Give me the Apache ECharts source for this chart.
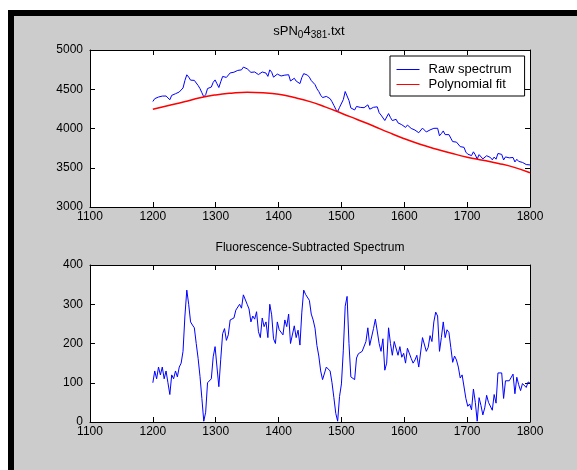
<!DOCTYPE html>
<html>
<head>
<meta charset="utf-8">
<script src="https://cdn.jsdelivr.net/npm/echarts/dist/echarts.min.js"></script>
<style>
  html, body { margin: 0; padding: 0; background: #fff; }
  #frame {
    position: absolute; left: 8px; top: 10px; width: 569px; height: 460px;
    box-sizing: border-box; border-top: 6px solid #000; border-left: 6px solid #000;
    background: #cccccc;
  }
  #chart { position: absolute; left: 0; top: 0; width: 577px; height: 470px; }
</style>
</head>
<body>
<div id="frame"></div>
<div id="chart"></div>
<script>
// Wavenumber grid (cm^-1)
const wavenumber = [
  1200,1203,1206,1209,1212,1215,1218,1221,1224,1227,
  1230,1233,1236,1239,1242,1245,1248,1251,1254,1257,
  1260,1263,1266,1269,1272,1275,1278,1281,1284,1287,
  1290,1293,1296,1299,1302,1305,1308,1311,1314,1317,
  1320,1323,1326,1329,1332,1335,1338,1341,1344,1347,
  1350,1353,1356,1359,1362,1365,1368,1371,1374,1377,
  1380,1383,1386,1389,1392,1395,1398,1401,1404,1407,
  1410,1413,1416,1419,1422,1425,1428,1431,1434,1437,
  1440,1443,1446,1449,1452,1455,1458,1461,1464,1467,
  1470,1473,1476,1479,1482,1485,1488,1491,1494,1497,
  1500,1503,1506,1509,1512,1515,1518,1521,1524,1527,
  1530,1533,1536,1539,1542,1545,1548,1551,1554,1557,
  1560,1563,1566,1569,1572,1575,1578,1581,1584,1587,
  1590,1593,1596,1599,1602,1605,1608,1611,1614,1617,
  1620,1623,1626,1629,1632,1635,1638,1641,1644,1647,
  1650,1653,1656,1659,1662,1665,1668,1671,1674,1677,
  1680,1683,1686,1689,1692,1695,1698,1701,1704,1707,
  1710,1713,1716,1719,1722,1725,1728,1731,1734,1737,
  1740,1743,1746,1749,1752,1755,1758,1761,1764,1767,
  1770,1773,1776,1779,1782,1785,1788,1791,1794,1797,
  1800
];

// Raw Raman spectrum (counts)
const rawSpectrum = [
  4344,4380,4366,4401,4387,4413,4389,4414,4390,4366,
  4422,4417,4443,4434,4465,4480,4516,4612,4684,4655,
  4616,4614,4613,4580,4548,4508,4456,4403,4430,4509,
  4518,4528,4588,4619,4570,4522,4595,4663,4678,4651,
  4668,4708,4708,4717,4738,4740,4756,4747,4782,4785,
  4761,4748,4715,4729,4720,4738,4687,4671,4720,4696,
  4706,4664,4747,4717,4654,4640,4693,4669,4669,4647,
  4680,4658,4685,4605,4595,4640,4604,4616,4572,4649,
  4699,4682,4680,4654,4611,4588,4559,4506,4471,4424,
  4394,4390,4409,4405,4380,4341,4294,4245,4215,4269,
  4292,4368,4471,4486,4357,4262,4253,4236,4281,4283,
  4269,4270,4265,4275,4301,4246,4242,4270,4283,4276,
  4201,4171,4192,4102,4110,4190,4140,4101,4126,4117,
  4072,4084,4048,4048,4014,4044,4036,4001,3981,3980,
  3984,3946,3938,4005,3998,3956,3959,3982,3959,4002,
  4020,4003,3907,3935,3969,3922,3935,3922,3877,3833,
  3843,3827,3803,3769,3771,3760,3699,3673,3675,3655,
  3703,3664,3611,3667,3642,3613,3626,3653,3631,3631,
  3601,3636,3609,3682,3679,3670,3599,3638,3627,3626,
  3625,3631,3574,3608,3581,3558,3568,3557,3541,3547,
  3536
];

// Fluorescence-subtracted spectrum (counts)
const subtracted = [
  100,130,110,140,120,140,110,130,100,70,
  120,110,130,115,140,150,180,270,336,300,
  255,247,240,200,162,116,60,2,25,100,
  104,110,166,192,140,90,160,225,238,208,
  222,260,258,265,285,286,300,290,324,325,
  300,288,255,270,262,281,230,215,265,243,
  255,215,300,273,212,200,255,235,240,222,
  260,243,275,200,195,245,215,234,196,280,
  336,325,330,310,275,260,239,195,168,130,
  108,112,140,145,130,100,62,22,2,65,
  97,183,295,320,200,115,115,108,163,174,
  170,180,185,205,240,195,200,238,262,265,
  200,180,212,132,150,240,200,170,205,205,
  170,192,165,175,150,188,188,162,150,158,
  170,140,140,215,215,180,190,220,205,255,
  280,270,180,215,255,215,235,228,190,152,
  168,158,140,112,120,115,60,40,46,31,
  84,50,2,62,42,18,36,68,50,55,
  30,70,48,125,128,125,60,105,100,105,
  110,122,72,114,95,80,98,96,88,102,
  99
];

// Polynomial baseline, sampled every 25 cm^-1
const fitWavenumber = [1200,1225,1250,1275,1300,1325,1350,1375,1400,1425,1450,1475,1500,
                       1525,1550,1575,1600,1625,1650,1675,1700,1725,1750,1775,1800];
const polyFit = [4244,4292,4340,4392,4428,4450,4461,4455,4436,4395,4342,4272,4195,
                 4115,4035,3950,3870,3800,3740,3685,3635,3595,3555,3505,3437];

const xTicks = { min: 1100, max: 1800, step: 100 };
const rawTicks = { min: 3000, max: 5000, step: 500 };
const subTicks = { min: 0, max: 400, step: 100 };

const FONT = "'Liberation Sans', Arial, Helvetica, sans-serif";

function pairs(xs, ys) { return xs.map((x, i) => [x, ys[i]]); }
const plain = v => String(v);

function xAxisCfg(gridIndex, position, showLabels) {
  return {
    type: 'value', gridIndex, position,
    min: xTicks.min, max: xTicks.max, interval: xTicks.step,
    axisLine: { show: true, onZero: false, lineStyle: { color: '#000', width: 1 } },
    axisTick: { show: true, inside: true, length: 5, lineStyle: { color: '#000', width: 1 } },
    axisLabel: { show: showLabels, color: '#000', fontSize: 12, fontFamily: FONT, margin: 4,
                 showMinLabel: true, showMaxLabel: true, formatter: plain },
    splitLine: { show: false }
  };
}
function yAxisCfg(gridIndex, position, ticks, showLabels) {
  return {
    type: 'value', gridIndex, position,
    min: ticks.min, max: ticks.max, interval: ticks.step,
    axisLine: { show: true, onZero: false, lineStyle: { color: '#000', width: 1 } },
    axisTick: { show: true, inside: true, length: 5, lineStyle: { color: '#000', width: 1 } },
    axisLabel: { show: showLabels, color: '#000', fontSize: 12, fontFamily: FONT, margin: 7,
                 showMinLabel: true, showMaxLabel: true, formatter: plain },
    splitLine: { show: false }
  };
}

const chart = echarts.init(document.getElementById('chart'), null, { renderer: 'canvas' });

chart.setOption({
  animation: false,
  backgroundColor: 'transparent',
  grid: [
    { left: 90, top: 50, width: 440, height: 157, show: true, backgroundColor: '#fff', borderWidth: 0 },
    { left: 90, top: 265, width: 440, height: 157, show: true, backgroundColor: '#fff', borderWidth: 0 }
  ],
  xAxis: [
    xAxisCfg(0, 'bottom', true),
    xAxisCfg(0, 'top', false),
    xAxisCfg(1, 'bottom', true),
    xAxisCfg(1, 'top', false)
  ],
  yAxis: [
    yAxisCfg(0, 'left', rawTicks, true),
    yAxisCfg(0, 'right', rawTicks, false),
    yAxisCfg(1, 'left', subTicks, true),
    yAxisCfg(1, 'right', subTicks, false)
  ],
  legend: {
    data: ['Raw spectrum', 'Polynomial fit'],
    orient: 'vertical',
    left: 390, top: 56,
    backgroundColor: '#fff',
    borderColor: '#000', borderWidth: 1, borderRadius: 0,
    padding: [7, 13, 5, 6],
    itemWidth: 23, itemHeight: 14, itemGap: 2,
    selectedMode: false,
    itemStyle: { opacity: 0 },
    lineStyle: { width: 1 },
    textStyle: { color: '#000', fontSize: 13, fontFamily: FONT, padding: [0, 0, 0, 4] }
  },
  graphic: [
    {
      type: 'text', x: 309, y: 25, silent: true,
      style: {
        text: '{a|sPN}{s|0}{a|4}{s|381}{a|.txt}',
        align: 'center', verticalAlign: 'top',
        rich: {
          a: { fontSize: 13, fontFamily: FONT, fill: '#000', lineHeight: 15, verticalAlign: 'top', padding: [0, 0, 3, 0] },
          s: { fontSize: 10, fontFamily: FONT, fill: '#000', lineHeight: 11, verticalAlign: 'bottom' }
        }
      }
    },
    {
      type: 'text', x: 310, y: 248, silent: true,
      style: {
        text: 'Fluorescence-Subtracted Spectrum',
        align: 'center', verticalAlign: 'middle',
        fontSize: 12, fontFamily: FONT, fill: '#000'
      }
    }
  ],
  series: [
    {
      name: 'Raw spectrum', type: 'line', xAxisIndex: 0, yAxisIndex: 0,
      data: pairs(wavenumber, rawSpectrum),
      symbol: 'none', showSymbol: false,
      lineStyle: { color: '#0000ff', width: 1 }, itemStyle: { color: '#0000ff' }
    },
    {
      name: 'Polynomial fit', type: 'line', xAxisIndex: 0, yAxisIndex: 0,
      data: pairs(fitWavenumber, polyFit),
      symbol: 'none', showSymbol: false, smooth: true,
      lineStyle: { color: '#ff0000', width: 1.5 }, itemStyle: { color: '#ff0000' }
    },
    {
      name: 'Subtracted', type: 'line', xAxisIndex: 2, yAxisIndex: 2,
      data: pairs(wavenumber, subtracted),
      symbol: 'none', showSymbol: false,
      lineStyle: { color: '#0000ff', width: 1 }, itemStyle: { color: '#0000ff' }
    }
  ]
});
</script>
</body>
</html>
